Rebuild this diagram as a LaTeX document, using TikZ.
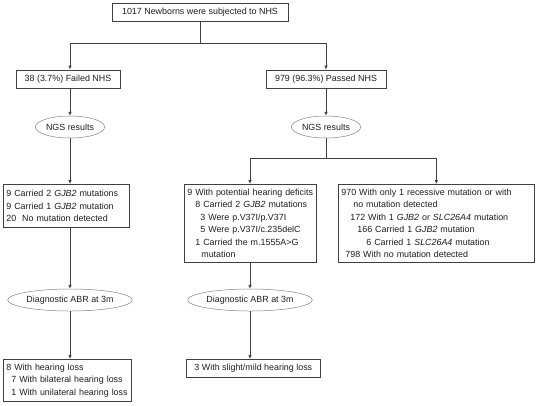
\documentclass[tikz,border=0pt]{standalone}
\usepackage{fontspec}
\setmainfont{Liberation Sans}
\usepackage{tikz}
\usetikzlibrary{shapes, arrows.meta, positioning, calc}
\definecolor{framegray}{RGB}{64, 64, 64}
\definecolor{ovalgray}{RGB}{130, 130, 130}
\definecolor{textgray}{RGB}{30, 30, 30}

\begin{document}
\begin{tikzpicture}[x=1pt, y=-1pt,
    box/.style={draw=framegray, line width=0.7pt, inner sep=3pt, text=textgray,
      font=\fontsize{8.9}{12.4}\selectfont, align=left},
    oval/.style={draw=ovalgray, ellipse, line width=0.5pt, inner sep=0.5pt, text=textgray,
      font=\fontsize{8.9}{11}\selectfont},
    arr/.style={-{Latex[length=4pt, width=3.5pt]}, framegray, line width=0.7pt},
    lin/.style={framegray, line width=0.7pt}]
  \useasboundingbox (0,0) rectangle (537,405);

  % Screening
  \node[box, minimum width=176pt, minimum height=18pt] (all) at (200,12) {1017 Newborns were subjected to NHS};
  \node[box, minimum width=104pt, minimum height=18pt] (failed) at (68,79) {38 (3.7\%) Failed NHS};
  \node[box, minimum width=120pt, minimum height=18pt] (passed) at (326,79) {979 (96.3\%) Passed NHS};

  % NGS results
  \node[oval, minimum width=62pt, minimum height=22pt] (ngsL) at (70,127) {NGS results};
  \node[oval, minimum width=62pt, minimum height=22pt] (ngsR) at (326,127) {NGS results};

  % Genotypes
  \node[box, anchor=north west, text width=120pt, minimum height=43pt] (resL) at (3,184) {
    9 Carried 2 \textit{GJB2} mutations\\
    9 Carried 1 \textit{GJB2} mutation\\
    20\ \ No mutation detected};
  \node[box, anchor=north west, text width=126pt, minimum height=78pt] (resM) at (184,184) {
    9 With potential hearing deficits\\
    \hspace*{8pt}8 Carried 2 \textit{GJB2} mutations\\
    \hspace*{13pt}3 Were p.V37I/p.V37I\\
    \hspace*{13pt}5 Were p.V37I/c.235delC\\
    \hspace*{8pt}1 Carried the m.1555A>G\\
    \hspace*{14pt}mutation};
  \node[box, anchor=north west, text width=190pt, minimum height=78pt] (resR) at (338,184) {
    970 With only 1 recessive mutation or with\\
    \hspace*{12pt}no mutation detected\\
    \hspace*{9pt}172 With 1 \textit{GJB2} or \textit{SLC26A4} mutation\\
    \hspace*{16pt}166 Carried 1 \textit{GJB2} mutation\\
    \hspace*{25pt}6 Carried 1 \textit{SLC26A4} mutation\\
    \hspace*{4pt}798 With no mutation detected};

  % ABR
  \node[oval, minimum width=106pt, minimum height=22pt] (abrL) at (70,300) {Diagnostic ABR at 3m};
  \node[oval, minimum width=106pt, minimum height=22pt] (abrM) at (250,300) {Diagnostic ABR at 3m};

  % Outcomes
  \node[box, anchor=north west, text width=122pt, minimum height=42pt] (outL) at (3,359) {
    8 With hearing loss\\
    \hspace*{5pt}7 With bilateral hearing loss\\
    \hspace*{5pt}1 With unilateral hearing loss};
  \node[box, anchor=north west, minimum width=134pt, minimum height=18pt] (outM) at (186,359) {3 With slight/mild hearing loss};

  % Connectors
  \draw[lin] (all.south) -- ++(0,22) coordinate (splitA);
  \draw[arr] (splitA) -| (ngsL.north |- failed.north);
  \draw[arr] (splitA) -| (passed.north);
  \draw[arr] (ngsL.north |- failed.south) -- (ngsL.north);
  \draw[arr] (passed.south) -- (ngsR.north);
  \draw[arr] (ngsL.south) -- (ngsL.south |- resL.north);
  \draw[lin] (ngsR.south) -- ++(0,20) coordinate (splitB);
  \draw[arr] (splitB) -| (abrM.north |- resM.north);
  \draw[arr] (splitB) -| (resR.north);
  \draw[arr] (abrL.north |- resL.south) -- (abrL.north);
  \draw[arr] (abrM.north |- resM.south) -- (abrM.north);
  \draw[arr] (abrL.south) -- (abrL.south |- outL.north);
  \draw[arr] (abrM.south) -- (abrM.south |- outM.north);
\end{tikzpicture}
\end{document}
